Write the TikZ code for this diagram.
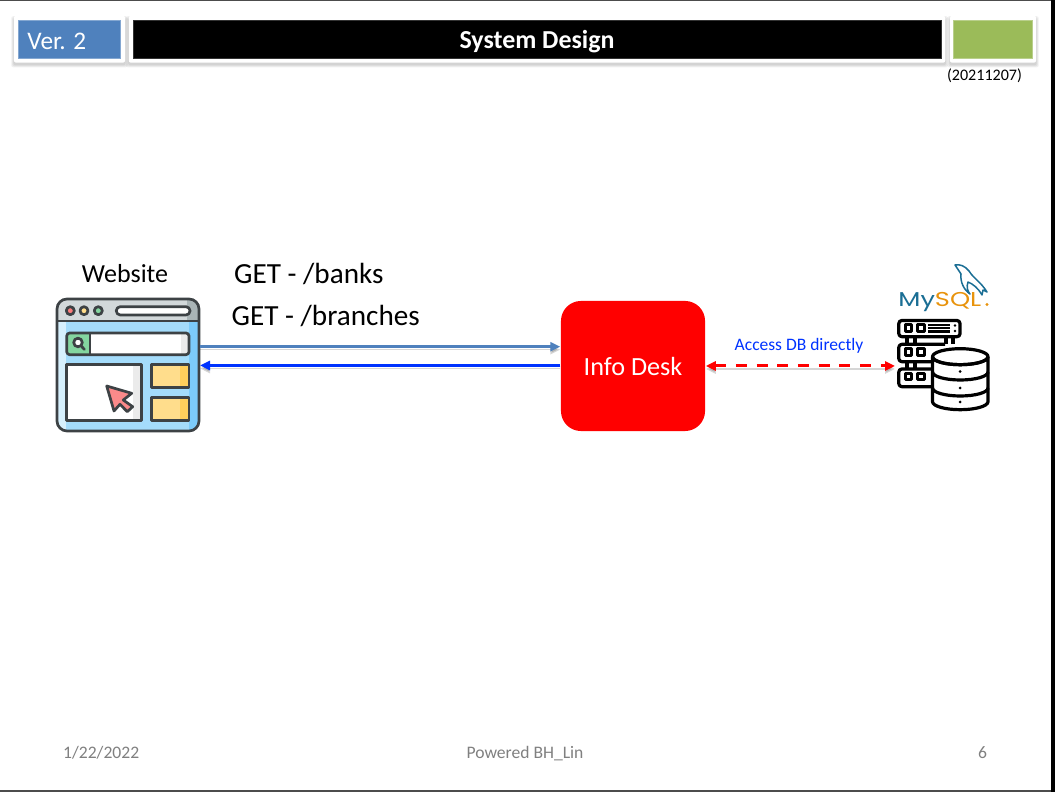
\documentclass[tikz,border=0pt]{standalone}
\usepackage{fontspec}
\setmainfont{Carlito}
\newfontfamily\logofont{Poppins}
\usetikzlibrary{arrows.meta,backgrounds}
\newcommand{\fs}[1]{\fontsize{#1pt}{#1pt}\selectfont}
\newcommand{\softshadow}[1]{%
  \begin{scope}[on background layer]
    \foreach \s in {0,1,2}{
      \fill[black,opacity=.06,rounded corners=0.02cm] ([shift={(-\s,3-\s)}]#1.north west) rectangle ([shift={(\s,2+\s)}]#1.south east);
    }
  \end{scope}}
\tikzset{
  x=0.01cm,y=-0.01cm,
  card/.style={fill=white,draw=none,inner sep=0pt,rounded corners=0.02cm},
  bar/.style={inner sep=0pt,text=white},
  label/.style={inner sep=0pt,text=black},
  foot/.style={inner sep=0pt,text=black!50,font=\fs{5}},
  linkshadow/.style={preaction={draw=black,opacity=.16,transform canvas={yshift=-0.03cm}}},
  icon/.style={draw=iconline,line width=0.027cm,line join=round},
  dbline/.style={draw=black,line width=0.032cm,line join=round},
}
\definecolor{hdrblue}{HTML}{4F81BD}
\definecolor{hdrgreen}{HTML}{9BBB59}
\definecolor{lnkblue}{HTML}{0033FF}
\definecolor{iconline}{HTML}{3D4245}
\definecolor{skybody}{HTML}{A4DCFB}
\definecolor{skyleft}{HTML}{D6F0FD}
\definecolor{skyright}{HTML}{7CCBFA}
\definecolor{chrome}{HTML}{D2D8DA}
\definecolor{chromedk}{HTML}{A9B4B6}
\definecolor{amber}{HTML}{FFDD8C}
\definecolor{amberdk}{HTML}{FFCF5C}
\definecolor{leaf}{HTML}{84D6A0}
\definecolor{arrowpink}{HTML}{FA8A8A}
\definecolor{mysqlblue}{HTML}{1A6E94}
\definecolor{mysqlorange}{HTML}{E8930C}
\begin{document}
\begin{tikzpicture}
\useasboundingbox (0,0) rectangle (1055,792);
\begin{scope}[on background layer]
  \fill[white] (0,0) rectangle (1055,792);
\end{scope}
% slide frame
\fill[black!70] (0,0) rectangle (1051,1.2);
\fill[black!70] (0,790) rectangle (1051,791.5);
\fill[black] (1051,0) rectangle (1055,792);

% header
\node[card,minimum width=1.11cm,minimum height=0.467cm] (vercard) at (69.5,39.3) {};
\softshadow{vercard}
\node[bar,fill=hdrblue,draw=hdrblue!70!white,line width=0.01cm,minimum width=1.02cm,minimum height=0.385cm] (ver) at (69.5,39.3) {};
\node[inner sep=0pt,text=white,font=\fs{7.2},anchor=west] (vertext) at (26.7,41) {Ver. 2};
\node[card,minimum width=8.16cm,minimum height=0.467cm] (titlecard) at (537,39.3) {};
\softshadow{titlecard}
\node[bar,fill=black,draw=black!80,line width=0.01cm,minimum width=8.075cm,minimum height=0.385cm] (title) at (537,39.3) {};
\node[inner sep=0pt,text=white,font=\fs{7.37}\bfseries] (titletext) at (537,41.5) {System Design};
\node[card,minimum width=0.86cm,minimum height=0.467cm] (greencard) at (993,39.3) {};
\softshadow{greencard}
\node[bar,fill=hdrgreen,draw=hdrgreen!70!white,line width=0.01cm,minimum width=0.78cm,minimum height=0.385cm] (green) at (993,39.3) {};
\node[inner sep=0pt,text=black,font=\fs{4.57}] (date) at (984.5,76) {(20211207)};

% website icon
\node[inner sep=0pt,minimum width=1.425cm,minimum height=1.32cm] (web) at (128,365) {};
\begin{scope}
  \clip[rounded corners=0.1cm] (57,299) rectangle (199,431);
  \fill[skybody] (57,299) rectangle (199,431);
  \fill[skyleft] (57,321) rectangle (66,431);
  \fill[skyright] (189,321) rectangle (199,431);
  \fill[chrome] (57,299) rectangle (199,321);
  \fill[chromedk] (187,299) rectangle (199,321);
\end{scope}
\draw[icon] (57,321) -- (199,321);
\draw[icon,rounded corners=0.1cm] (57,299) rectangle (199,431);
\fill[icon,fill=arrowpink!90!red] (70.3,310.7) circle (4);
\fill[icon,fill=amber] (84,310.7) circle (4);
\fill[icon,fill=leaf] (98.3,310.7) circle (4);
\draw[icon,fill=white,rounded corners=0.04cm] (116.3,306.7) rectangle (190,315);
% search bar
\fill[white,rounded corners=0.03cm] (66.7,333) rectangle (189,354.7);
\fill[black!8] (181,334) rectangle (188,354);
\fill[leaf,rounded corners=0.03cm] (66.7,333) rectangle (90,354.7);
\draw[icon,rounded corners=0.03cm] (66.7,333) rectangle (189,354.7);
\draw[icon] (90,333) -- (90,354.7);
\draw[icon,fill=white] (78,342.5) circle (4.3);
\draw[icon,line cap=round] (81.2,346) -- (84.5,349.5);
% panel
\fill[white] (66.7,364.3) rectangle (141.7,420.7);
\fill[black!8] (133,364.3) rectangle (141.7,420.7);
\draw[icon] (66.7,364.3) rectangle (141.7,420.7);
% side cards
\fill[amber] (151.3,364.3) rectangle (189,387.3);
\fill[amberdk] (180,364.3) rectangle (189,387.3);
\draw[icon] (151.3,364.3) rectangle (189,387.3);
\fill[amber] (151.3,397.3) rectangle (189,420.7);
\fill[amberdk] (180,397.3) rectangle (189,420.7);
\draw[icon] (151.3,397.3) rectangle (189,420.7);
% cursor
\draw[icon,fill=arrowpink] (106.7,386) -- (131.7,393.3) -- (123.3,400) -- (132.7,406.7) -- (127.3,411.7) -- (120,404.3) -- (114,411) -- cycle;

% texts
\node[label,font=\fs{7.4}] (weblabel) at (125,274) {Website};
\node[label,font=\fs{8.3},anchor=west] (getbanks) at (233.5,274) {GET - /banks};
\node[label,font=\fs{8.3},anchor=west] (getbranches) at (231,316) {GET - /branches};

% info desk
\node[fill=red,text=white,inner sep=0pt,rounded corners=0.2cm,minimum width=1.44cm,minimum height=1.3cm] (desk) at (633,366) {};
\node[inner sep=0pt,text=white,font=\fs{7.45}] (desktext) at (633,366.5) {Info Desk};

% database
\coordinate (dbport) at (895,366);
\begin{scope}
  \draw[dbline,rounded corners=0.03cm] (898.8,320.5) rectangle (960,336.7);
  \draw[dbline,rounded corners=0.03cm] (932,361.7) -- (898.8,361.7) -- (898.8,344.3) -- (945,344.3);
  \draw[dbline,rounded corners=0.03cm] (932,386.7) -- (898.8,386.7) -- (898.8,369) -- (932,369);
  \foreach \ya/\yb in {336.7/344.3,361.7/369}{
    \draw[dbline] (907,\ya) -- (907,\yb);
    \draw[dbline] (915,\ya) -- (915,\yb);
  }
  \draw[dbline] (946,336.7) -- (946,344.3) (953,336.7) -- (953,344.3);
  \foreach \y in {325,349,373.5}{
    \draw[dbline,line width=0.03cm] (905,\y) rectangle (911.7,\y+6.5);
    \draw[dbline,line width=0.03cm] (917.3,\y) rectangle (924,\y+6.5);
  }
  \draw[dbline,line width=0.022cm] (928.3,325) -- (950,325) (928.3,328.3) -- (950,328.3) (928.3,331.6) -- (950,331.6);
  \fill (955,325.5) circle (1.4) (955,331) circle (1.4);
  % cylinder
  \draw[dbline,fill=white] (932.5,356.7) -- (932.5,401.7) arc[start angle=180,end angle=360,x radius=27.75,y radius=-8] -- (988,356.7) arc[start angle=0,end angle=360,x radius=27.75,y radius=8];
  \draw[dbline] (932.5,356.7) arc[start angle=180,end angle=360,x radius=27.75,y radius=-8];
  \draw[dbline] (932.5,372) arc[start angle=180,end angle=360,x radius=27.75,y radius=-8];
  \draw[dbline] (932.5,388) arc[start angle=180,end angle=360,x radius=27.75,y radius=-8];
  \fill (960,371.5) circle (1.5) (960,388) circle (1.5) (960,402) circle (1.5);
\end{scope}

% MySQL logo
\node[inner sep=0pt,anchor=base west,xscale=1.28,font=\logofont\fs{5.7}] (mysql) at (897.5,306.5) {\textcolor{mysqlblue}{My}\textcolor{mysqlorange}{SQL}};
\fill[mysqlorange] (987,304.5) circle (1.6);
\draw[mysqlblue,line width=0.015cm,line join=round] (955,265) .. controls (960,264) and (965,266) .. (969,271)
  .. controls (974,279) and (980,281) .. (987,292) -- (983,290) -- (982,295) .. controls (978,288) and (973,284) .. (968,282)
  .. controls (966,287) and (968,292) .. (970,294) .. controls (964,290) and (960,282) .. (961,274) .. controls (959,271) and (957,268) .. (955,265) -- cycle;

% connectors
\draw[hdrblue,line width=0.033cm,-{Triangle[length=0.1cm,width=0.09cm]},linkshadow] (web.east |- 0,346.7) -- (desk.west |- 0,346.7);
\draw[lnkblue,line width=0.033cm,-{Triangle[length=0.1cm,width=0.09cm]},linkshadow] (desk.west |- 0,365.5) -- (web.east |- 0,365.5);
\draw[red,line width=0.03cm,dash pattern=on 0.11cm off 0.097cm,{Triangle[length=0.1cm,width=0.09cm]}-{Triangle[length=0.1cm,width=0.09cm]},linkshadow] (desk.east) -- (dbport);
\node[inner sep=0pt,text=lnkblue,font=\fs{4.98}] (access) at (799,345.5) {Access DB directly};

% footer
\node[foot,anchor=west] (fdate) at (62.5,753) {1/22/2022};
\node[foot] (fcenter) at (525,753.5) {Powered BH\_Lin};
\node[foot] (fpage) at (982.5,753) {6};
\end{tikzpicture}
\end{document}
